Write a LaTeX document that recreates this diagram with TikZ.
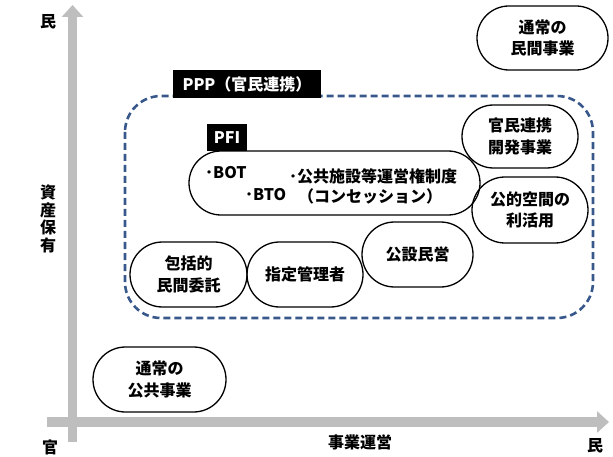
\documentclass[tikz,border=0pt]{standalone}
\usepackage{fontspec}
\setmainfont{Noto Sans CJK JP}
\usepackage{xcolor}
\usetikzlibrary{positioning, arrows.meta, shapes.misc}

\definecolor{pppblue}{RGB}{56,88,140}
\definecolor{axisgray}{RGB}{190,190,190}

\begin{document}
\begin{tikzpicture}[x=1pt, y=-1pt,
    axis/.style={line width=9.5pt, axisgray, -{Triangle[width=21pt, length=12pt]}},
    axislabel/.style={font=\bfseries\fontsize{16}{17.5}\selectfont, align=center, inner sep=0pt},
    pill/.style={draw, line width=1.3pt, rounded rectangle, align=center, inner sep=0pt,
        font=\bfseries\fontsize{16}{21.5}\selectfont},
    tag/.style={fill=black, text=white, inner sep=0pt, font=\bfseries\fontsize{16}{18}\selectfont},
    item/.style={anchor=west, inner sep=0pt, font=\bfseries\fontsize{16}{18}\selectfont}]
    \useasboundingbox (0, 0) rectangle (613, 457);

    % axes
    \coordinate (ybase) at (72.5, 442);
    \coordinate (ytop) at (72.5, 5);
    \coordinate (xbase) at (47, 422);
    \coordinate (xtop) at (609, 422);
    \draw[axis] (ybase) -- (ytop);
    \draw[axis] (xbase) -- (xtop);

    \node[axislabel] (ymax) at (48, 22) {民};
    \node[axislabel] (ytitle) at (48, 219) {資\\産\\保\\有};
    \node[axislabel] (origin) at (50, 447) {官};
    \node[axislabel] (xtitle) at (360, 442) {事業運営};
    \node[axislabel] (xmax) at (595, 446) {民};

    % PPP area
    \draw[pppblue, line width=2.6pt, dash pattern=on 7pt off 4pt, rounded corners=36pt]
        (125, 96) rectangle (593, 318);
    \node[tag, minimum width=148pt, minimum height=28pt] (ppp) at (247, 84) {PPP（官民連携）};

    % PFI
    \node[pill, minimum width=291pt, minimum height=64pt] (pfi) at (334.5, 183) {};
    \node[tag, minimum width=40pt, minimum height=27pt] (pfitag) at (227, 137.5) {PFI};
    \node[item] (bot) at (205, 173) {･BOT};
    \node[item] (bto) at (245, 195) {･BTO};
    \node[item] (conc) at (289, 176) {･公共施設等運営権制度};
    \node[item, anchor=center] (concsub) at (370, 196) {（コンセッション）};

    % other schemes
    \node[pill, minimum width=131pt, minimum height=64pt] (private) at (542.5, 38) {通常の\\民間事業};
    \node[pill, minimum width=116pt, minimum height=63pt] (devel) at (520, 136.5) {官民連携\\開発事業};
    \node[pill, minimum width=116pt, minimum height=66pt] (space) at (530, 210) {公的空間の\\利活用};
    \node[pill, minimum width=111pt, minimum height=65pt] (dbo) at (417.5, 254.5) {公設民営};
    \node[pill, minimum width=116pt, minimum height=65pt] (manager) at (305, 274.5) {指定管理者};
    \node[pill, minimum width=117pt, minimum height=65pt] (outsrc) at (188.5, 274.5) {包括的\\民間委託};
    \node[pill, minimum width=133pt, minimum height=65pt] (public) at (159.5, 379.5) {通常の\\公共事業};
\end{tikzpicture}
\end{document}
